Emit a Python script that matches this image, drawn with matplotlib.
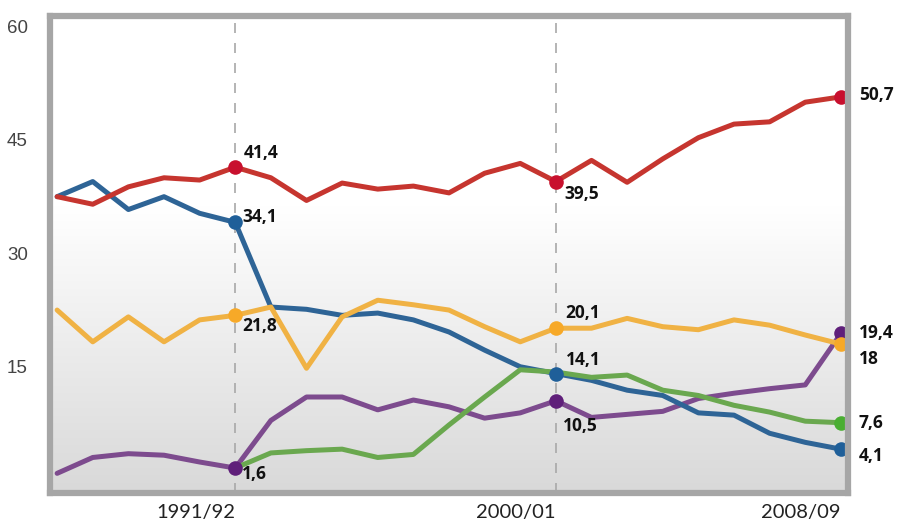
import numpy as np
import matplotlib.pyplot as plt

years = list(range(1986, 2009))
red = [37.5, 36.5, 38.8, 40.0, 39.7, 41.4, 40.0, 37.0, 39.3, 38.5, 38.9, 38.0,
       40.6, 41.9, 39.5, 42.3, 39.4, 42.5, 45.3, 47.1, 47.4, 50.0, 50.7]
blue = [37.5, 39.5, 35.8, 37.5, 35.3, 34.1, 22.9, 22.6, 21.8, 22.1, 21.2, 19.6,
        17.2, 15.0, 14.1, 13.2, 11.9, 11.2, 8.9, 8.6, 6.2, 5.0, 4.1]
orange = [22.5, 18.3, 21.6, 18.3, 21.2, 21.8, 22.9, 14.8, 21.6, 23.8, 23.2, 22.5,
          20.3, 18.3, 20.1, 20.1, 21.4, 20.3, 19.9, 21.2, 20.5, 19.2, 18.0]
purple = [0.9, 3.0, 3.5, 3.3, 2.4, 1.6, 7.9, 11.0, 11.0, 9.3, 10.6, 9.7,
          8.2, 8.9, 10.5, 8.3, 8.7, 9.1, 10.8, 11.5, 12.1, 12.6, 19.4]
green_years = list(range(1991, 2009))
green = [1.6, 3.6, 3.9, 4.1, 3.0, 3.4, 7.3, 11.0, 14.6, 14.3, 13.6, 13.9,
         11.9, 11.2, 9.9, 9.0, 7.8, 7.6]

marked_years = [1991, 2000, 2008]
tick_labels = ["1991/92", "2000/01", "2008/09"]
yticks = [15, 30, 45, 60]

fig = plt.figure(figsize=(8.98, 5.26), dpi=100)
ax = fig.add_axes([50 / 898, 33 / 526, 798 / 898, 477 / 526])
ax.set_xlim(1985.8, 2008.2)
ax.set_ylim(-1.7, 61.4)

# background gradient, white on top, grey at the bottom
t = np.linspace(0, 1, 256)
shade = 1 - 0.15 * np.clip((t - 0.4) / 0.6, 0, 1)
grad = np.repeat(shade[:, None, None], 3, axis=2)
ax.imshow(grad, extent=[0, 1, 0, 1], transform=ax.transAxes, aspect="auto", zorder=0)

for yr in marked_years[:2]:
    ax.axvline(yr, color="#a8a8a8", lw=1.2, dashes=(6, 6), zorder=1)

# (years, values, line colour, dot colour)
series = [
    (years, purple, "#7d4b8e", "#5f1f7a"),
    (years, blue, "#2e6496", "#1f5f99"),
    (years, orange, "#f0b244", "#f7a928"),
    (green_years, green, "#6aa84f", "#4aae32"),
    (years, red, "#c6352f", "#c8102e"),
]
for i, (xs, vals, lc, dc) in enumerate(series):
    ax.plot(xs, vals, color=lc, lw=3.6, solid_joinstyle="round",
            solid_capstyle="round", zorder=2 + i)
for i, (xs, vals, lc, dc) in enumerate(series):
    mx = [y for y in marked_years if y in xs]
    if xs is green_years:
        mx = [2008]
    my = [vals[xs.index(y)] for y in mx]
    ax.plot(mx, my, "o", color=dc, ms=10.5, mec="none", zorder=10)

def lab(x, v, dx, dy):
    ax.annotate(f"{v:g}".replace(".", ","), (x, v), xytext=(dx, dy),
                textcoords="offset points", fontsize=12.5, fontweight="bold",
                family="Open Sans", ha="left", va="center", color="#111111",
                zorder=12, annotation_clip=False)

lab(1991, red[5], 6, 10)
lab(1991, blue[5], 5, 4)
lab(1991, orange[5], 5, -8)
lab(1991, purple[5], 5, -4)
lab(2000, red[14], 6, -9)
lab(2000, orange[14], 7, 11)
lab(2000, blue[14], 7, 10)
lab(2000, purple[14], 5, -18)
lab(2008, red[-1], 13, 1)
lab(2008, purple[-1], 13, 0)
lab(2008, orange[-1], 13, -11)
lab(2008, green[-1], 13, 0)
lab(2008, blue[-1], 13, -5)

for sp in ax.spines.values():
    sp.set_color("#a6a6a6")
    sp.set_linewidth(4.5)
    sp.set_zorder(11)

ax.set_yticks(yticks)
ax.set_yticklabels([str(v) for v in yticks], fontsize=13.5, color="#444444",
                   family="Liberation Sans")
ax.set_xticks(marked_years)
ax.set_xticklabels(tick_labels, fontsize=14.5, color="#222222", ha="right",
                   family="Lato")
ax.tick_params(axis="y", length=0, pad=16)
ax.tick_params(axis="x", length=0, pad=8)

fig.savefig("out.png", dpi=100)
